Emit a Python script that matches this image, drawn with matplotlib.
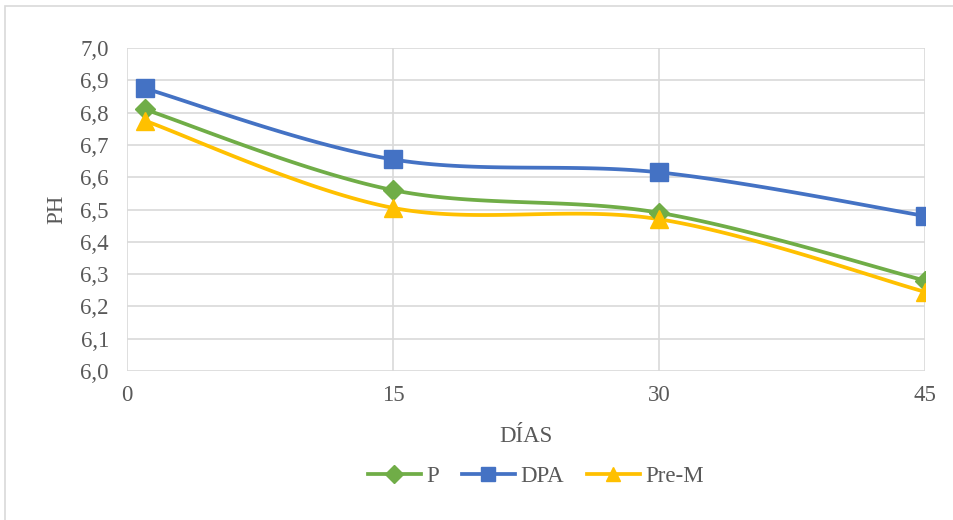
import numpy as np
import matplotlib.pyplot as plt
from matplotlib.patches import Rectangle

# DATA
dias = [1, 15, 30, 45]
ph_p = [6.81, 6.56, 6.49, 6.28]
ph_dpa = [6.875, 6.655, 6.615, 6.48]
ph_prem = [6.775, 6.505, 6.47, 6.245]
x_ticks = [0, 15, 30, 45]
y_ticks = [6.0, 6.1, 6.2, 6.3, 6.4, 6.5, 6.6, 6.7, 6.8, 6.9, 7.0]


# Curva suave tipo Excel (Bezier con puntos de control Catmull-Rom)
def suavizar(x, y, n=40):
    p = np.column_stack([x, y]).astype(float)
    pts = np.vstack([p[0], p, p[-1]])
    out = []
    for i in range(1, len(pts) - 2):
        p0, p1, p2, p3 = pts[i - 1], pts[i], pts[i + 1], pts[i + 2]
        c1 = p1 + (p2 - p0) / 6
        c2 = p2 - (p3 - p1) / 6
        t = np.linspace(0, 1, n)[:, None]
        seg = ((1 - t) ** 3) * p1 + 3 * ((1 - t) ** 2) * t * c1 + 3 * (1 - t) * t ** 2 * c2 + t ** 3 * p2
        out.append(seg if i == 1 else seg[1:])
    seg = np.vstack(out)
    return seg[:, 0], seg[:, 1]


plt.rcParams['font.family'] = 'Liberation Serif'
txt = '#595959'
grid = '#D9D9D9'
fs = 16.5

fig = plt.figure(figsize=(9.54, 5.2), dpi=100)
# borde del area del grafico (solo se ven arriba e izquierda)
fig.patches.append(Rectangle((5.5 / 954, -20 / 520), 1.1, (514.5 + 20) / 520, transform=fig.transFigure,
                             fill=False, edgecolor='#D9D9D9', linewidth=1.2))
ax = fig.add_axes([127 / 954, 1 - 371 / 520, 798 / 954, 323 / 520])

series = [
    ('P', ph_p, '#70AD47', 'D', 10.5),
    ('DPA', ph_dpa, '#4472C4', 's', 12.5),
    ('Pre-M', ph_prem, '#FFC000', '^', 12.5),
]
for nombre, vals, color, mk, ms in series:
    xs, ys = suavizar(dias, vals)
    ax.plot(xs, ys, color=color, linewidth=2.7, solid_capstyle='round', zorder=3)
    ax.plot(dias, vals, linestyle='none', marker=mk, markersize=ms, color=color, zorder=4)
    ax.plot([], [], color=color, linewidth=2.7, marker=mk, markersize=ms * 0.85, label=nombre)

ax.set_xlim(0, 45)
ax.set_ylim(6.0, 7.0)
ax.set_xticks(x_ticks)
ax.set_yticks(y_ticks)
ax.set_yticklabels([f'{v:.1f}'.replace('.', ',') for v in y_ticks])
ax.grid(True, color=grid, linewidth=1.2)
ax.set_axisbelow(True)
for s in ax.spines.values():
    s.set_visible(False)
ax.tick_params(length=0, labelsize=fs, labelcolor=txt)
ax.tick_params(axis='y', pad=13)
ax.tick_params(axis='x', pad=10)
ax.set_xlabel('DÍAS', fontsize=fs, color=txt, va='center')
ax.set_ylabel('PH', fontsize=fs, color=txt, va='center')
ax.xaxis.set_label_coords(0.5, (371 - 436) / 323)
ax.yaxis.set_label_coords((57 - 127) / 798, (371 - 209) / 323)

ax.legend(loc='center', bbox_to_anchor=(536 / 954, 1 - 476 / 520), bbox_transform=fig.transFigure,
          ncol=3, frameon=False, fontsize=fs, labelcolor=txt, handlelength=2.3,
          columnspacing=1.0, handletextpad=0.25)

fig.savefig('out.png', dpi=100)
